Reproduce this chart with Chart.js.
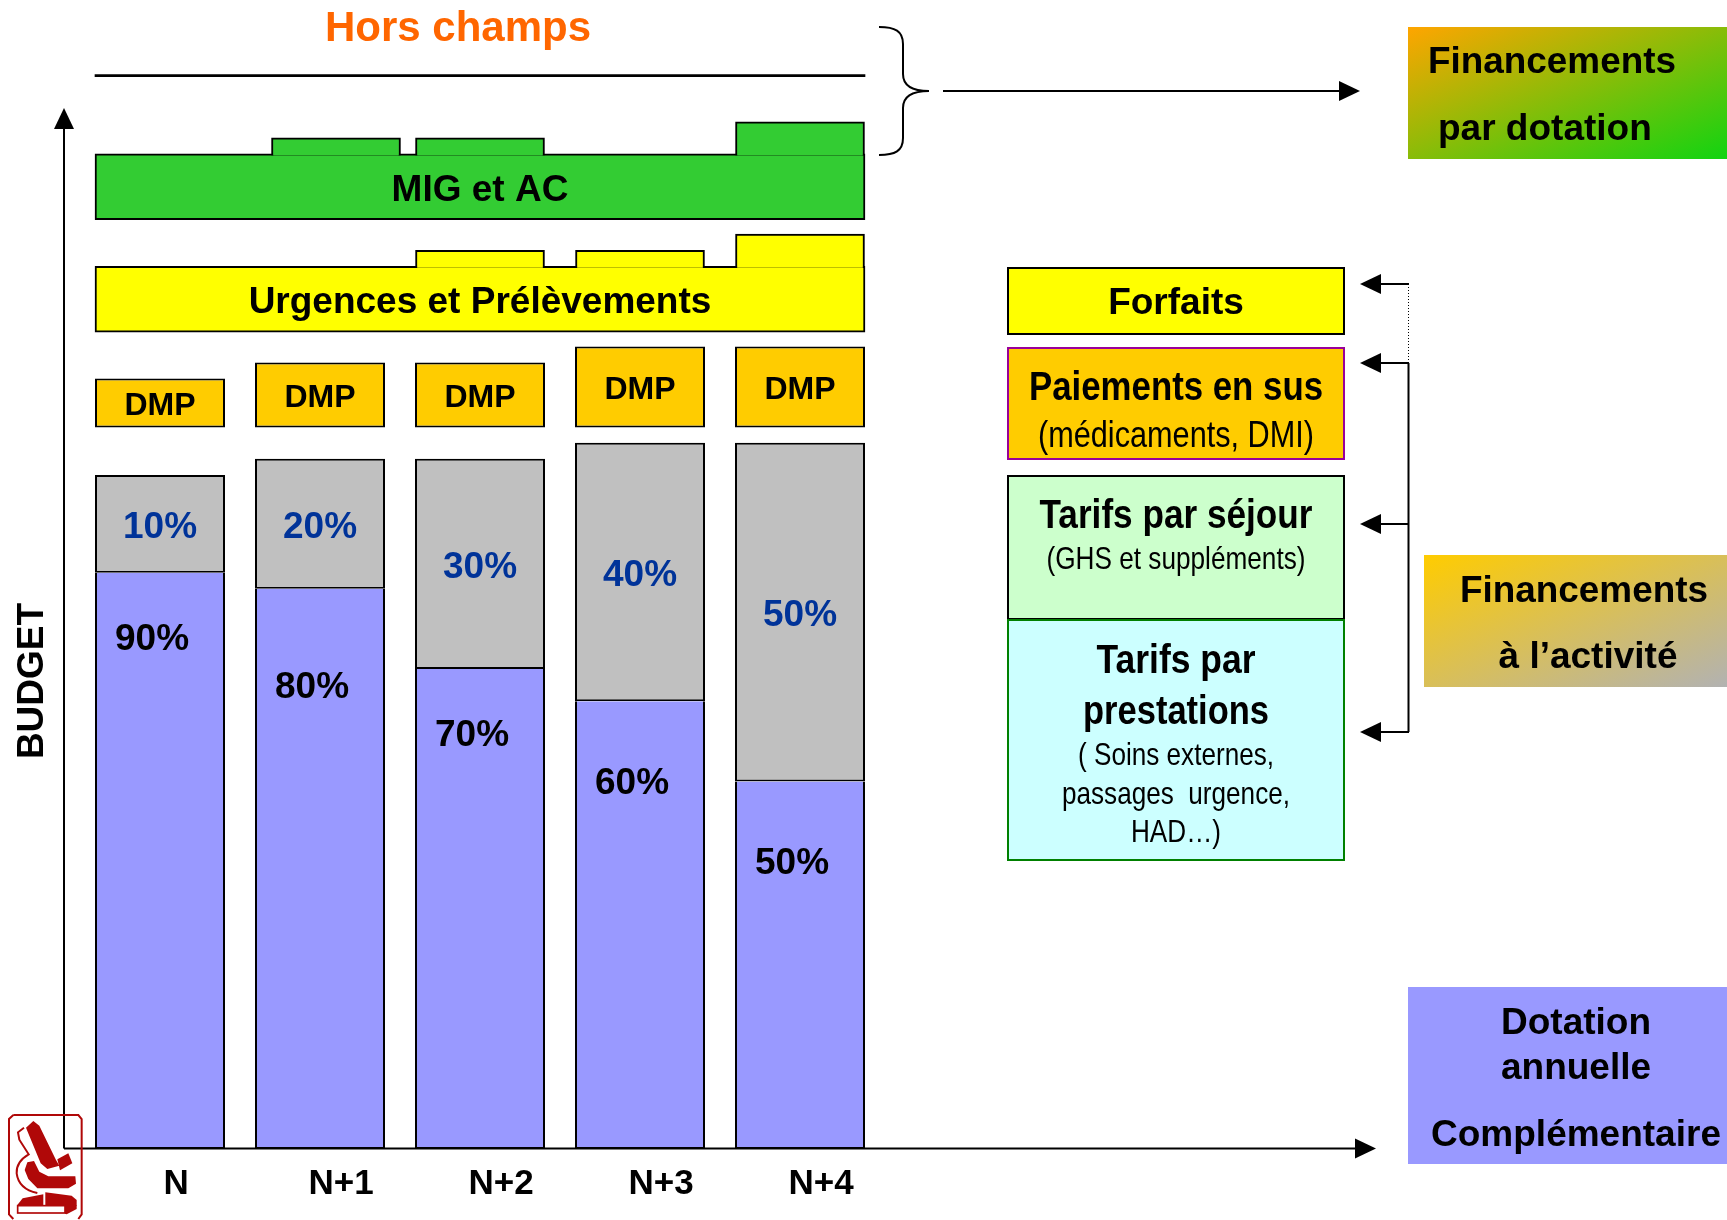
<!DOCTYPE html>
<html lang="fr">
<head>
<meta charset="utf-8">
<title>Financement T2A</title>
<script src="https://cdn.jsdelivr.net/npm/chart.js@4"></script>
<style>
  html, body { margin: 0; padding: 0; background: #fff; }
  canvas { display: block; }
</style>
</head>
<body>
<canvas id="budget-chart" width="1727" height="1220"></canvas>
<script>
const years = ['N', 'N+1', 'N+2', 'N+3', 'N+4'];

// hauteurs (unité arbitraire de budget)
const dotation = [35.9, 34.9, 29.9, 27.9, 22.9];
const activite = [6.1, 8.1, 13.1, 16.1, 21.1];
const dmp = [3.05, 4.05, 4.05, 5.05, 5.05];
const dmpBase = 44.95;

const partDotation = ['90%', '80%', '70%', '60%', '50%'];
const partActivite = ['10%', '20%', '30%', '40%', '50%'];

const urgences = [50.9, 55];
const urgencesPos = [2.5, 3.5, 4.5];
const urgencesTop = [56, 56, 57];

const mig = [57.9, 62];
const migPos = [1.6, 2.5, 4.5];
const migTop = [63, 63, 64];

const horsChamps = [66.82, 66.94];

function txt(ctx, s, x, y, font, color, align, maxW) {
  ctx.font = font;
  ctx.fillStyle = color || '#000';
  ctx.textAlign = align || 'center';
  ctx.textBaseline = 'middle';
  if (maxW) ctx.fillText(s, x, y + 2.5, maxW);
  else ctx.fillText(s, x, y + 2.5);
}

function arrowHead(ctx, tipX, tipY, dir) {
  ctx.beginPath();
  if (dir === 'up') {
    ctx.moveTo(tipX, tipY);
    ctx.lineTo(tipX - 10, tipY + 21);
    ctx.lineTo(tipX + 10, tipY + 21);
  } else {
    const d = dir === 'left' ? 1 : -1;
    ctx.moveTo(tipX, tipY);
    ctx.lineTo(tipX + d * 21, tipY - 10);
    ctx.lineTo(tipX + d * 21, tipY + 10);
  }
  ctx.closePath();
  ctx.fillStyle = '#000';
  ctx.fill();
}

function line(ctx, x1, y1, x2, y2, w) {
  ctx.beginPath();
  ctx.moveTo(x1, y1);
  ctx.lineTo(x2, y2);
  ctx.lineWidth = w || 2;
  ctx.strokeStyle = '#000';
  ctx.stroke();
}

function box(ctx, x1, y1, x2, y2, fill, stroke) {
  ctx.fillStyle = fill;
  ctx.fillRect(x1, y1, x2 - x1, y2 - y1);
  if (stroke) {
    ctx.strokeStyle = stroke;
    ctx.lineWidth = 2;
    ctx.strokeRect(x1 + 1, y1 + 1, x2 - x1 - 2, y2 - y1 - 2);
  }
}

// dégradé type PowerPoint : les deux autres coins tombent au milieu
function gradientBox(ctx, x1, y1, x2, y2, from, to) {
  const w = x2 - x1, h = y2 - y1;
  const k = 2 * w * h / (w * w + h * h);
  const g = ctx.createLinearGradient(x1, y1, x1 + k * h, y1 + k * w);
  g.addColorStop(0, from);
  g.addColorStop(1, to);
  box(ctx, x1, y1, x2, y2, g);
}

function poly(ctx, pts) {
  ctx.beginPath();
  pts.forEach((p, i) => i ? ctx.lineTo(p[0], p[1]) : ctx.moveTo(p[0], p[1]));
  ctx.closePath();
  ctx.fill();
}

function drawLogo(ctx) {
  const red = '#B00808';
  ctx.save();
  ctx.translate(0, 1105);
  ctx.scale(1 / 3, 1 / 3);
  ctx.strokeStyle = red;
  ctx.fillStyle = red;
  ctx.lineWidth = 6;
  ctx.beginPath();
  ctx.moveTo(40, 30); ctx.lineTo(235, 30); ctx.lineTo(245, 42);
  ctx.lineTo(245, 328); ctx.lineTo(235, 342);
  ctx.moveTo(40, 342); ctx.lineTo(27, 328); ctx.lineTo(27, 42); ctx.lineTo(40, 30);
  ctx.stroke();
  // tube
  poly(ctx, [[100, 48], [118, 62], [168, 165], [178, 182], [142, 192], [122, 175], [78, 68]]);
  // platine
  poly(ctx, [[172, 163], [205, 145], [217, 175], [180, 196]]);
  // corps
  poly(ctx, [[82, 172], [102, 168], [118, 200], [145, 214], [226, 214], [228, 236], [205, 250], [112, 250], [85, 222], [74, 195]]);
  // contour du bras
  ctx.lineWidth = 6;
  ctx.beginPath();
  ctx.moveTo(72, 68); ctx.lineTo(54, 82); ctx.lineTo(58, 104); ctx.lineTo(86, 148);
  ctx.quadraticCurveTo(48, 170, 50, 205);
  ctx.quadraticCurveTo(56, 252, 112, 264);
  ctx.stroke();
  // socle
  poly(ctx, [[52, 300], [68, 280], [130, 268], [130, 300]]);
  poly(ctx, [[136, 262], [215, 272], [230, 285], [230, 302], [136, 302]]);
  ctx.lineWidth = 5;
  ctx.strokeRect(53, 302, 142, 22);
  poly(ctx, [[195, 300], [230, 300], [230, 312], [200, 328], [195, 326]]);
  ctx.restore();
}

const axesPlugin = {
  id: 'axes',
  beforeDatasetsDraw(chart) {
    const ctx = chart.ctx;
    const yb = chart.scales.y.getPixelForValue(0) - 0.5;
    ctx.save();
    line(ctx, 64, yb, 64, 128);
    arrowHead(ctx, 64, 108, 'up');
    line(ctx, 64, yb, 1356, yb);
    arrowHead(ctx, 1376, yb, 'right');
    ctx.restore();
  },
};

const labelsPlugin = {
  id: 'labels',
  afterDatasetsDraw(chart) {
    const ctx = chart.ctx;
    const y = chart.scales.y;
    const bold = n => `bold ${n}px "Liberation Sans", Arial, sans-serif`;
    const normal = n => `${n}px "Liberation Sans", Arial, sans-serif`;
    ctx.save();

    // textes dans les barres
    const dotationLabelY = [32, 29, 26, 23, 18];
    chart.getDatasetMeta(0).data.forEach((bar, i) => {
      txt(ctx, partDotation[i], bar.x - 8, y.getPixelForValue(dotationLabelY[i]) + 1.5, bold(37));
    });
    chart.getDatasetMeta(1).data.forEach((bar, i) => {
      txt(ctx, partActivite[i], bar.x, (bar.y + bar.base) / 2 + 1.5, bold(37), '#003399');
    });
    chart.getDatasetMeta(2).data.forEach(bar => {
      txt(ctx, 'DMP', bar.x, (bar.y + bar.base) / 2 + 1, bold(32));
    });
    const urg = chart.getDatasetMeta(3).data[0];
    txt(ctx, 'Urgences et Prélèvements', urg.x, (urg.y + urg.base) / 2 + 1, bold(37), '#000', 'center', 465);
    const mg = chart.getDatasetMeta(5).data[0];
    txt(ctx, 'MIG et AC', mg.x, (mg.y + mg.base) / 2 + 1, bold(37));

    txt(ctx, 'Hors champs', 458, 27, bold(42), '#FF6600');

    ctx.save();
    ctx.translate(33, 681);
    ctx.rotate(-Math.PI / 2);
    txt(ctx, 'BUDGET', 0, -2.5, bold(37));
    ctx.restore();

    // accolade et flèche du haut
    ctx.beginPath();
    ctx.moveTo(879, 27);
    ctx.bezierCurveTo(895, 27, 903, 31, 903, 44);
    ctx.lineTo(903, 74);
    ctx.bezierCurveTo(903, 86, 912, 91, 929, 91);
    ctx.bezierCurveTo(912, 91, 903, 96, 903, 108);
    ctx.lineTo(903, 138);
    ctx.bezierCurveTo(903, 151, 895, 155, 879, 155);
    ctx.lineWidth = 2;
    ctx.strokeStyle = '#000';
    ctx.stroke();
    line(ctx, 943, 91, 1340, 91);
    arrowHead(ctx, 1360, 91, 'right');

    // cartouches de droite
    gradientBox(ctx, 1408, 27, 1727, 159, '#FFA500', '#11D411');
    txt(ctx, 'Financements', 1428, 60, bold(37), '#000', 'left', 248);
    txt(ctx, 'par dotation', 1438, 127, bold(37), '#000', 'left', 214);

    gradientBox(ctx, 1424, 555, 1727, 687, '#FFCC00', '#B2B2B2');
    txt(ctx, 'Financements', 1584, 589, bold(37), '#000', 'center', 248);
    txt(ctx, 'à l’activité', 1588, 655, bold(37), '#000', 'center', 180);

    box(ctx, 1408, 987, 1727, 1164, '#9999FF');
    txt(ctx, 'Dotation', 1576, 1021, bold(37));
    txt(ctx, 'annuelle', 1576, 1066, bold(37));
    txt(ctx, 'Complémentaire', 1576, 1133, bold(37), '#000', 'center', 292);

    // légende centrale
    const cx = 1176;
    box(ctx, 1007, 267, 1345, 335, '#FFFF00', '#000');
    txt(ctx, 'Forfaits', cx, 301, bold(37));

    box(ctx, 1007, 347, 1345, 460, '#FFCC00', '#990099');
    txt(ctx, 'Paiements en sus', cx, 386, bold(41), '#000', 'center', 294);
    txt(ctx, '(médicaments, DMI)', cx, 434, normal(37), '#000', 'center', 276);

    box(ctx, 1007, 475, 1345, 620, '#CCFFCC', '#000');
    txt(ctx, 'Tarifs par séjour', cx, 514, bold(41), '#000', 'center', 273);
    txt(ctx, '(GHS et suppléments)', cx, 558, normal(32), '#000', 'center', 259);

    box(ctx, 1007, 619, 1345, 861, '#CCFFFF', '#008000');
    txt(ctx, 'Tarifs par', cx, 659, bold(41), '#000', 'center', 159);
    txt(ctx, 'prestations', cx, 710, bold(41), '#000', 'center', 186);
    txt(ctx, '( Soins externes,', cx, 754, normal(32), '#000', 'center', 196);
    txt(ctx, 'passages  urgence,', cx, 793, normal(32), '#000', 'center', 228);
    txt(ctx, 'HAD…)', cx, 831, normal(32), '#000', 'center', 90);

    // flèches vers la légende
    line(ctx, 1408.5, 363, 1408.5, 732);
    line(ctx, 1381, 363, 1409, 363);
    line(ctx, 1381, 524, 1409, 524);
    line(ctx, 1381, 732, 1409, 732);
    line(ctx, 1381, 284, 1409, 284);
    ctx.save();
    ctx.setLineDash([1, 2]);
    line(ctx, 1408.5, 284, 1408.5, 363, 1);
    ctx.restore();
    arrowHead(ctx, 1360, 284, 'left');
    arrowHead(ctx, 1360, 363, 'left');
    arrowHead(ctx, 1360, 524, 'left');
    arrowHead(ctx, 1360, 732, 'left');

    drawLogo(ctx);
    ctx.restore();
  },
};

const activiteBars = activite.map((v, i) => [dotation[i], dotation[i] + v]);
const dmpBars = dmp.map(v => [dmpBase, dmpBase + v]);

function bandDataset(range, color, order) {
  return {
    data: [{ x: 2.5, y: range }],
    xAxisID: 'xBand',
    barThickness: 770,
    grouped: false,
    backgroundColor: color,
    borderColor: '#000',
    borderWidth: 2,
    borderSkipped: false,
    order,
  };
}

function bumpDataset(positions, tops, base, color, order) {
  return {
    data: positions.map((p, i) => ({ x: p, y: [base - 0.1, tops[i]] })),
    xAxisID: 'xBand',
    barThickness: 129,
    grouped: false,
    backgroundColor: color,
    borderColor: '#000',
    borderWidth: 2,
    borderSkipped: 'bottom',
    order,
  };
}

function yearDataset(data, color, skip) {
  return {
    data,
    xAxisID: 'x',
    backgroundColor: color,
    borderColor: '#000',
    borderWidth: 2,
    borderSkipped: skip,
    barPercentage: 0.8125,
    categoryPercentage: 1,
    grouped: false,
    order: 5,
  };
}

new Chart(document.getElementById('budget-chart'), {
  type: 'bar',
  data: {
    labels: years,
    datasets: [
      yearDataset(dotation, '#9999FF', 'top'),
      yearDataset(activiteBars, '#C0C0C0', false),
      yearDataset(dmpBars, '#FFCC00', false),
      bandDataset(urgences, '#FFFF00', 3),
      bumpDataset(urgencesPos, urgencesTop, urgences[1], '#FFFF00', 2),
      bandDataset(mig, '#33CC33', 3),
      bumpDataset(migPos, migTop, mig[1], '#33CC33', 2),
      {
        data: [{ x: 2.5, y: horsChamps }],
        xAxisID: 'xBand',
        barThickness: 770,
        grouped: false,
        backgroundColor: '#000',
        order: 3,
      },
    ],
  },
  options: {
    responsive: false,
    animation: false,
    layout: { padding: { left: 80, right: 847, top: 0, bottom: 0 } },
    plugins: { legend: { display: false }, tooltip: { enabled: false } },
    scales: {
      x: {
        type: 'category',
        afterFit: s => { s.height = 71; },
        grid: { display: false, drawTicks: false },
        border: { display: false },
        ticks: {
          color: '#000',
          padding: 14,
          labelOffset: 21,
          callback: (v, i) => (i === 0 ? years[0] + ' ' : years[i]),
          font: { family: '"Liberation Sans", Arial, sans-serif', weight: 'bold', size: 35 },
        },
      },
      xBand: { type: 'linear', display: false, min: 0, max: 5, offset: false, grid: { display: false } },
      y: { display: false, min: 0, max: 71.59, grid: { display: false } },
    },
  },
  plugins: [axesPlugin, labelsPlugin],
});
</script>
</body>
</html>
